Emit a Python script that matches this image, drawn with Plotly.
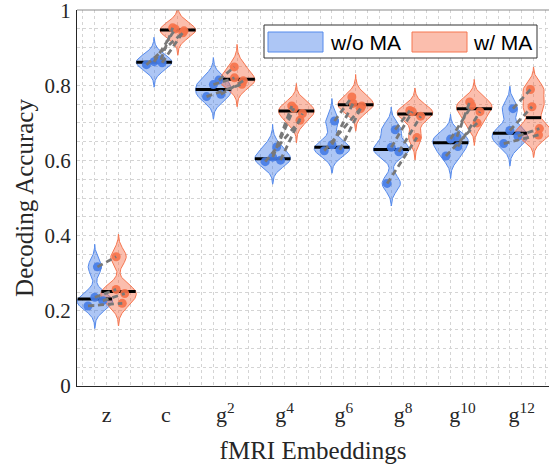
import numpy as np
import plotly.graph_objects as go

# ---------------- data ----------------
categories = ['z', 'c', 'g<sup>2</sup>', 'g<sup>4</sup>', 'g<sup>6</sup>',
              'g<sup>8</sup>', 'g<sup>10</sup>', 'g<sup>12</sup>']
wo_ma = [
    [0.213, 0.227, 0.236, 0.317],
    [0.855, 0.860, 0.863, 0.868],
    [0.770, 0.776, 0.802, 0.814],
    [0.597, 0.601, 0.609, 0.636],
    [0.626, 0.628, 0.642, 0.705],
    [0.539, 0.623, 0.635, 0.682],
    [0.612, 0.637, 0.657, 0.663],
    [0.645, 0.665, 0.680, 0.738],
]
w_ma = [
    [0.220, 0.246, 0.257, 0.344],
    [0.940, 0.945, 0.950, 0.953],
    [0.803, 0.812, 0.820, 0.849],
    [0.707, 0.725, 0.739, 0.745],
    [0.738, 0.745, 0.752, 0.769],
    [0.661, 0.718, 0.730, 0.733],
    [0.700, 0.730, 0.746, 0.756],
    [0.668, 0.685, 0.743, 0.789],
]
y_tickvals = [0, 0.2, 0.4, 0.6, 0.8, 1.0]
y_ticktext = ['0', '0.2', '0.4', '0.6', '0.8', '1']
series_names = ['w/o MA', 'w/ MA']

# ---------------- style ----------------
W, H = 549, 464
L, R, T, B = 77, 549, 10, 386
XR = [0.5, 8.46]
YR = [0, 1.0005]
OFFSET = 0.2
HALF_W = 0.3
BW = 0.02
JIT = {0: [-0.45, 0.45, 0.0, 0.4], 1: [0.3, 0.35, -0.15, -0.3]}
FILL = ['rgba(60,120,230,0.42)', 'rgba(245,100,60,0.42)']
EDGE = ['rgb(85,138,236)', 'rgb(246,118,80)']
PT = ['rgba(70,125,230,0.92)', 'rgba(246,115,75,0.92)']
SERIF = 'Liberation Serif'
TXT = '#262626'


def kde(data, grid):
    d = np.asarray(data)[None, :]
    g = np.asarray(grid)[:, None]
    return np.exp(-0.5 * ((g - d) / BW) ** 2).sum(axis=1)


fig = go.Figure()

violins = []
for i in range(len(categories)):
    for s, series in enumerate([wo_ma, w_ma]):
        data = np.sort(np.array(series[i]))
        c = (i + 1) + (-OFFSET if s == 0 else OFFSET)
        grid = np.linspace(data.min() - 3 * BW, data.max() + 3 * BW, 200)
        dens = kde(data, grid)
        scale = HALF_W / dens.max()
        hw = dens * scale
        xs = np.concatenate([c + hw, (c - hw)[::-1]])
        ys = np.concatenate([grid, grid[::-1]])
        fig.add_trace(go.Scatter(x=xs, y=ys, mode='lines', fill='toself',
                                 fillcolor=FILL[s], line=dict(color=EDGE[s], width=1),
                                 hoverinfo='skip', showlegend=False))
        med = float(np.median(data))
        hwm = float(kde(data, [med])[0] * scale)
        hwp = kde(data, data) * scale
        px = c + np.array(JIT[s]) * hwp
        violins.append(dict(s=s, c=c, med=med, hwm=hwm, px=px, py=data))

# median lines
for v in violins:
    fig.add_trace(go.Scatter(x=[v['c'] - v['hwm'], v['c'] + v['hwm']], y=[v['med'], v['med']],
                             mode='lines', line=dict(color='black', width=3),
                             hoverinfo='skip', showlegend=False))
# points
for v in violins:
    fig.add_trace(go.Scatter(x=v['px'], y=v['py'], mode='markers',
                             marker=dict(size=9, color=PT[v['s']], line=dict(width=0)),
                             hoverinfo='skip', showlegend=False))
# paired dashed lines
for i in range(len(categories)):
    vb, vo = violins[2 * i], violins[2 * i + 1]
    xs, ys = [], []
    for j in range(len(vb['py'])):
        xs += [vb['px'][j], vo['px'][j], None]
        ys += [vb['py'][j], vo['py'][j], None]
    fig.add_trace(go.Scatter(x=xs, y=ys, mode='lines',
                             line=dict(color='rgb(120,120,120)', width=2.8, dash='6px,4px'),
                             hoverinfo='skip', showlegend=False))


def pxp(px, py):
    return (px - L) / (R - L), (B - py) / (B - T)


shapes = []
annotations = []
# top border
shapes.append(dict(type='line', xref='paper', yref='paper', x0=0, x1=1, y0=1, y1=1,
                   line=dict(color='#8a8a8a', width=1.2), layer='above'))
# legend box
x0, y0 = pxp(264, 58)
x1, y1 = pxp(537, 25)
shapes.append(dict(type='rect', xref='paper', yref='paper', x0=x0, x1=x1, y0=y0, y1=y1,
                   fillcolor='white', line=dict(color='#333333', width=1), layer='above'))
for s, (pl, pr, tx) in enumerate([(268, 323, 328), (412, 467, 471)]):
    a0, b0 = pxp(pl, 52)
    a1, b1 = pxp(pr, 32)
    shapes.append(dict(type='rect', xref='paper', yref='paper', x0=a0, x1=a1, y0=b0, y1=b1,
                       fillcolor=FILL[s], line=dict(color=EDGE[s], width=1), layer='above'))
    tx0, ty0 = pxp(tx, 42)
    annotations.append(dict(xref='paper', yref='paper', x=tx0, y=ty0, text=series_names[s],
                            showarrow=False, xanchor='left', yanchor='middle',
                            font=dict(family='Liberation Sans', size=21, color='black')))

grid_kw = dict(showgrid=True, gridcolor='#d4d4d4', gridwidth=1, griddash='dot')

fig.update_layout(
    width=W, height=H,
    margin=dict(l=L, r=W - R, t=T, b=H - B, autoexpand=False),
    plot_bgcolor='white', paper_bgcolor='white',
    shapes=shapes, annotations=annotations,
    xaxis=dict(range=XR, tickmode='array', tickvals=list(range(1, len(categories) + 1)),
               ticktext=categories, ticks='', ticklabelstandoff=9,
               tickfont=dict(family=SERIF, size=22, color=TXT),
               showline=True, linecolor=TXT, linewidth=1, zeroline=False,
               minor=dict(tickmode='linear', tick0=0, dtick=0.2, **grid_kw),
               title=dict(text='fMRI Embeddings', font=dict(family=SERIF, size=25, color=TXT),
                          standoff=16),
               **grid_kw),
    yaxis=dict(range=YR, tickmode='array', tickvals=y_tickvals, ticktext=y_ticktext,
               ticks='', ticklabelstandoff=1, ticklabeloverflow='allow',
               tickfont=dict(family=SERIF, size=21, color=TXT),
               showline=True, linecolor=TXT, linewidth=1, zeroline=False,
               minor=dict(tickmode='linear', tick0=0, dtick=0.05, **grid_kw),
               title=dict(text='Decoding Accuracy', font=dict(family=SERIF, size=25, color=TXT),
                          standoff=3),
               **grid_kw),
)

fig.write_html('out.html', config={'displayModeBar': False},
               post_script="document.body.style.margin='0';document.body.style.overflow='hidden';")
